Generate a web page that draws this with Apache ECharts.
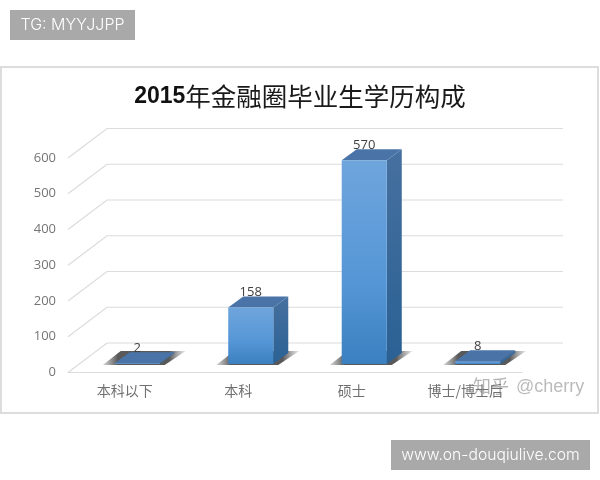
<!DOCTYPE html>
<html>
<head>
<meta charset="utf-8">
<style>html,body{margin:0;padding:0;background:#fff}#c{width:600px;height:480px}</style>
<script src="https://cdn.jsdelivr.net/npm/echarts@6/dist/echarts.min.js"></script>
</head>
<body>
<div id="c"></div>
<script>
const categories = ['本科以下', '本科', '硕士', '博士/博士后'];
const values = [2, 158, 570, 8];
const yTicks = [0, 100, 200, 300, 400, 500, 600];

const CJK = '"Noto Sans CJK SC"';
const gridColor = '#dcdcdc';

const chart = echarts.init(document.getElementById('c'), null, {renderer: 'canvas'});

function renderGridLine(params, api) {
  const cs = params.coordSys;
  const y = api.coord([0, api.value(1)])[1];
  return {
    type: 'polyline',
    silent: true,
    shape: {points: [[cs.x, y], [cs.x + 39, y - 29.5], [cs.x + cs.width + 41, y - 29.5]]},
    style: {stroke: gridColor, lineWidth: 1.2, fill: null}
  };
}

function renderBar(params, api) {
  const idx = api.value(0), val = api.value(1);
  const base = api.coord([idx, 0]), top = api.coord([idx, val]);
  const w = api.size([1, 0])[0] * 0.397;
  const cx = base[0] + 12.5;
  const x0 = cx - w / 2, x1 = cx + w / 2;
  const y0 = base[1] - 8.5, y1 = top[1] - 8.5;
  const dx = 15, dy = 11;
  return {
    type: 'group',
    children: [
      {type: 'polygon', silent: true,
        shape: {points: [[x0 - 12, y0 + 1], [x1 + 5, y0 + 1], [x1 + 26, y0 - 13], [x0 + 6, y0 - 13]]},
        style: {fill: {type: 'linear', x: 0, y: 0, x2: 1, y2: 0, colorStops: [
          {offset: 0, color: 'rgba(90,90,90,0.25)'}, {offset: 0.18, color: 'rgba(60,60,60,0.85)'},
          {offset: 0.8, color: 'rgba(60,60,60,0.85)'}, {offset: 1, color: 'rgba(110,110,110,0.15)'}]}}},
      {type: 'polygon', silent: true,
        shape: {points: [[x1, y1], [x1 + dx, y1 - dy], [x1 + dx, y0 - dy], [x1, y0]]},
        style: {fill: {type: 'linear', x: 0, y: 0, x2: 0, y2: 1, colorStops: [
          {offset: 0, color: '#46709f'}, {offset: 1, color: '#2a6194'}]}}},
      {type: 'polygon', silent: true,
        shape: {points: [[x0, y1], [x0 + dx, y1 - dy], [x1 + dx, y1 - dy], [x1, y1]]},
        style: {fill: '#4a74a8'}},
      {type: 'rect', silent: true,
        shape: {x: x0, y: y1, width: w, height: y0 - y1},
        style: {fill: {type: 'linear', x: 0, y: 0, x2: 0, y2: 1, colorStops: [
          {offset: 0, color: '#6fa5dd'}, {offset: 0.6, color: '#5596d6'}, {offset: 1, color: '#3b80c0'}]}}},
      {type: 'text', silent: true,
        style: {x: cx, y: y1 - 15, text: String(val), fill: '#404040', fontSize: 13,
          fontFamily: '"Open Sans"', align: 'center', verticalAlign: 'middle'}}
    ]
  };
}

chart.setOption({
  animation: false,
  backgroundColor: '#ffffff',
  title: {
    text: '{a|2015}{b|年金融圈毕业生学历构成}',
    left: 'center',
    top: 79,
    textStyle: {
      rich: {
        a: {fontFamily: '"Liberation Sans"', fontWeight: 'bold', fontSize: 23, color: '#111111'},
        b: {fontFamily: CJK, fontWeight: 'normal', fontSize: 25.5, color: '#1a1a1a'}
      }
    }
  },
  grid: {left: 68, right: 78, top: 158, bottom: 107.5, containLabel: false},
  xAxis: {
    type: 'category',
    data: categories,
    axisTick: {show: false},
    axisLine: {lineStyle: {color: gridColor, width: 1.2}},
    axisLabel: {interval: 0, margin: 11, fontFamily: CJK, fontSize: 14, color: '#707070'}
  },
  yAxis: {
    type: 'value',
    min: 0,
    max: 600,
    interval: 100,
    axisLine: {show: false},
    axisTick: {show: false},
    splitLine: {show: false},
    axisLabel: {margin: 12, fontFamily: '"Open Sans"', fontSize: 13, color: '#757575'}
  },
  series: [
    {type: 'custom', z: 1, renderItem: renderGridLine, encode: {x: 0, y: 1},
      data: yTicks.map(t => [0, t])},
    {type: 'custom', z: 2, renderItem: renderBar, encode: {x: 0, y: 1},
      data: values.map((v, i) => [i, v])}
  ],
  graphic: [
    {type: 'rect', z: -10, silent: true, shape: {x: 1, y: 67, width: 597, height: 346},
      style: {fill: '#ffffff', stroke: '#dddddd', lineWidth: 2}},
    {type: 'rect', z: 10, silent: true, shape: {x: 10, y: 10, width: 125, height: 30}, style: {fill: '#a9a9a9'}},
    {type: 'text', z: 11, silent: true, style: {x: 72.5, y: 25, text: 'TG: MYYJJPP', fill: '#ffffff', fontSize: 16,
      fontFamily: 'Inter', fontWeight: 300, align: 'center', verticalAlign: 'middle'}},
    {type: 'rect', z: 10, silent: true, shape: {x: 391, y: 440, width: 199, height: 30}, style: {fill: '#a9a9a9'}},
    {type: 'text', z: 11, silent: true, style: {x: 490.5, y: 455, text: 'www.on-douqiulive.com', fill: '#ffffff', fontSize: 15.7,
      fontFamily: 'Inter', fontWeight: 300, align: 'center', verticalAlign: 'middle'}},
    {type: 'text', z: 11, silent: true, style: {x: 473, y: 386, text: '知乎', fill: 'rgba(120,120,120,0.55)', fontSize: 18,
      fontFamily: CJK, align: 'left', verticalAlign: 'middle'}},
    {type: 'text', z: 11, silent: true, style: {x: 516, y: 387, text: '@cherry', fill: 'rgba(120,120,120,0.5)', fontSize: 18,
      fontFamily: '"Liberation Sans"', align: 'left', verticalAlign: 'middle'}}
  ]
});
</script>
</body>
</html>
